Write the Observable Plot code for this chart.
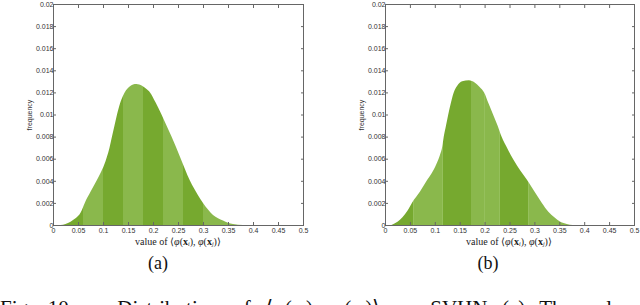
<!DOCTYPE html>
<html><head><meta charset="utf-8">
<script src="https://cdn.jsdelivr.net/npm/d3@7"></script>
<script src="https://cdn.jsdelivr.net/npm/@observablehq/plot@0.6"></script>
<style>
body{margin:0;width:640px;height:305px;overflow:hidden;position:relative;background:#fff;font-family:"Liberation Sans",Arial,sans-serif}
.panel{position:absolute;top:0}
.xlab{position:absolute;top:236px;font-family:"Liberation Serif","Times New Roman",serif;font-size:10px;line-height:11px;color:#222;transform:translateX(-50%);white-space:nowrap}
.xlab sub{font-size:6px;vertical-align:-1px;line-height:0}
.sub{position:absolute;top:253px;font-family:"Liberation Serif","Times New Roman",serif;font-size:18px;line-height:20px;color:#111;transform:translateX(-50%)}
.caption{position:absolute;top:298px;left:0;width:640px;font-family:"Liberation Serif","Times New Roman",serif;font-size:21px;line-height:21px;color:#111;text-align:justify;text-align-last:justify;white-space:nowrap}
.caption sub{font-size:13px;line-height:0}
</style></head>
<body>
<div id="pa" class="panel" style="left:0"></div>
<div id="pb" class="panel" style="left:320px"></div>
<div class="xlab" style="left:178px">value of ⟨<i>φ</i>(<b>x</b><sub><i>i</i></sub>), <i>φ</i>(<b>x</b><sub><i>j</i></sub>)⟩</div>
<div class="xlab" style="left:509px">value of ⟨<i>φ</i>(<b>x</b><sub><i>i</i></sub>), <i>φ</i>(<b>x</b><sub><i>j</i></sub>)⟩</div>
<div class="sub" style="left:158px">(a)</div>
<div class="sub" style="left:488px">(b)</div>
<div class="caption">Fig. 10. &nbsp; Distribution of ⟨<i>φ</i>(<b>x</b><sub>i</sub>), <i>φ</i>(<b>x</b><sub>j</sub>)⟩ on SVHN (a) The values</div>
<script>
// ---- data ----
const xA = [0.015,0.025,0.035,0.045,0.055,0.0635,0.075,0.087,0.095,0.102,0.108,0.113,0.118,0.123,0.128,0.134,0.14,0.146,0.152,0.16,0.167,0.178,0.187,0.194,0.205,0.217,0.227,0.237,0.2537,0.274,0.29,0.30,0.31,0.32,0.33,0.34,0.35,0.36,0.38];
const yA = [0,0.0001,0.0003,0.0006,0.0011,0.002,0.003,0.004,0.0047,0.0054,0.0062,0.007,0.008,0.009,0.010,0.011,0.0117,0.0122,0.0125,0.01272,0.01276,0.0126,0.0123,0.012,0.0111,0.010,0.009,0.008,0.0062,0.004,0.0027,0.002,0.0014,0.0009,0.0006,0.0004,0.0002,0.0001,0];
const xB = [0.013,0.025,0.035,0.045,0.054,0.07,0.0836,0.094,0.103,0.11,0.115,0.118,0.1225,0.127,0.132,0.138,0.145,0.155,0.1685,0.18,0.19,0.199,0.208,0.217,0.226,0.234,0.246,0.258,0.272,0.288,0.302,0.315,0.328,0.34,0.352,0.365,0.377];
const yB = [0,0.0003,0.0007,0.0013,0.002,0.003,0.004,0.0047,0.0055,0.0063,0.0071,0.008,0.009,0.010,0.011,0.012,0.0126,0.0130,0.0131,0.0129,0.0125,0.012,0.011,0.010,0.009,0.008,0.0069,0.0059,0.0049,0.0039,0.0029,0.002,0.0012,0.0007,0.0003,0.0001,0];
const bandEdgesA = [0.06,0.10,0.14,0.18,0.22,0.26,0.30];
const bandEdgesB = [0.0575,0.115,0.1725,0.23,0.2875];
const faintA = [0.08];
const faintB = [0.2];
const xTicks = [0,0.05,0.1,0.15,0.2,0.25,0.3,0.35,0.4,0.45,0.5];
const xTickLabels = ["0","0.05","0.1","0.15","0.2","0.25","0.3","0.35","0.4","0.45","0.5"];
const yTicks = [0,0.002,0.004,0.006,0.008,0.01,0.012,0.014,0.016,0.018,0.02];
const yTickLabels = ["0","0.002","0.004","0.006","0.008","0.01","0.012","0.014","0.016","0.018","0.02"];

const DARK = "#76a92f", LIGHT = "#8ab84c", SEP = "#95c05c";

function panel(xs, ys, edges, faint, id, ml, mr) {
  const data = xs.map((x, i) => ({x, y: ys[i]}));
  const fx = d => xTickLabels[xTicks.indexOf(d)];
  const fy = d => yTickLabels[yTicks.indexOf(d)];
  const plot = Plot.plot({
    width: 320, height: 240,
    marginLeft: ml, marginRight: mr, marginTop: 4, marginBottom: 15,
    style: {fontSize: "7px", color: "#333", fontFamily: "'Liberation Sans', Arial, sans-serif", background: "transparent"},
    x: {domain: [0, 0.5]},
    y: {domain: [0, 0.02]},
    marks: [
      Plot.areaY(data, {x: "x", y: "y", fill: `url(#grad${id})`, curve: "monotone-x"}),
      Plot.frame({stroke: "#666", strokeWidth: 1}),
      Plot.axisX(xTicks, {anchor: "bottom", tickSize: -3, tickPadding: 6, tickFormat: fx, label: null, stroke: "#666"}),
      Plot.axisX(xTicks, {anchor: "top", tickSize: -3, tickFormat: () => "", label: null, stroke: "#666"}),
      Plot.axisY(yTicks, {anchor: "left", tickSize: -3, tickPadding: 3, tickFormat: fy, label: "frequency", labelAnchor: "center", labelArrow: "none", labelOffset: 26, stroke: "#666"}),
      Plot.axisY(yTicks, {anchor: "right", tickSize: -3, tickFormat: () => "", label: null, stroke: "#666"})
    ]
  });
  const sx = plot.scale("x");
  const p0 = sx.apply(0), p1 = sx.apply(0.5), W = p1 - p0;
  const bounds = [0, ...edges, 0.5].map(v => sx.apply(v));
  const stripes = [...edges, ...faint].map(v => { const c = sx.apply(v); return [c - 0.4, c + 0.4]; });
  const cuts = Array.from(new Set([...bounds, ...stripes.flat()])).sort((a, b) => a - b);
  const grad = d3.select(plot).insert("defs", ":first-child").append("linearGradient")
    .attr("id", `grad${id}`).attr("gradientUnits", "userSpaceOnUse")
    .attr("x1", p0).attr("x2", p1).attr("y1", 0).attr("y2", 0);
  for (let k = 0; k < cuts.length - 1; k++) {
    const a = cuts[k], b = cuts[k + 1], m = (a + b) / 2;
    let color;
    if (stripes.some(([s, e]) => m > s && m < e)) color = SEP;
    else {
      let bi = 0;
      while (bi < bounds.length - 2 && m > bounds[bi + 1]) bi++;
      color = bi % 2 === 0 ? DARK : LIGHT;
    }
    grad.append("stop").attr("offset", Math.max(0, (a - p0) / W)).attr("stop-color", color);
    grad.append("stop").attr("offset", Math.min(1, (b - p0) / W)).attr("stop-color", color);
  }
  document.getElementById(id).appendChild(plot);
}
panel(xA, yA, bandEdgesA, faintA, "pa", 53, 17);
panel(xB, yB, bandEdgesB, faintB, "pb", 65, 6);
</script>
</body></html>
